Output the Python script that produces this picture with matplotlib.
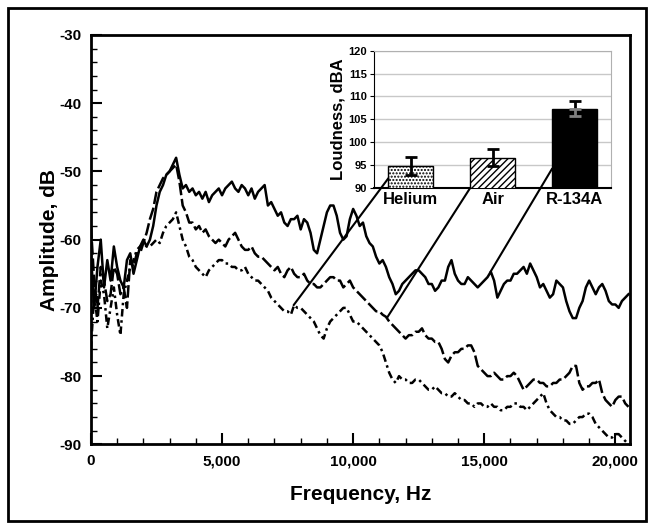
import numpy as np
import matplotlib
matplotlib.use("Agg")
import matplotlib.pyplot as plt
from matplotlib.patches import ConnectionPatch, Rectangle

plt.rcParams['font.family'] = ['Liberation Sans', 'DejaVu Sans']
plt.rcParams['font.weight'] = 'bold'
plt.rcParams['hatch.linewidth'] = 1.0
plt.rcParams['axes.unicode_minus'] = False

# spectra sampled every 125 Hz, 0 .. 20,500 Hz (one row = 1 kHz)
freq = np.arange(0, 20501, 125)

r134a_db = [-62, -70, -64, -60, -67, -63, -66, -61,
            -64, -66, -67, -63, -62, -65, -63, -61,
            -60, -61, -60, -58, -55, -53, -52, -50.5,
            -50, -49, -48, -50.5, -52.5, -52, -53, -52.5,
            -53.5, -53, -54, -53, -54.5, -53.5, -53, -52.5,
            -53.5, -52.5, -52, -51.5, -52.5, -53, -52, -52.5,
            -53.5, -52.5, -54, -53, -52.5, -52, -55, -54.5,
            -55.5, -56.5, -56, -57.5, -58, -57, -57, -56.5,
            -58.5, -57, -57.5, -59, -61.5, -62, -60, -58,
            -56, -55, -55, -56.5, -59, -60, -59.5, -57,
            -55.5, -56.5, -58, -57.5, -59.5, -60.5, -61, -62.5,
            -63.5, -63, -64, -65.5, -66.5, -68, -67.5, -66.5,
            -66, -65.5, -65, -64.5, -64.5, -65, -65.5, -66.5,
            -66.5, -67.5, -67, -66, -66, -64, -63, -65,
            -66, -66.5, -66.5, -65.5, -66, -66.5, -67, -66.5,
            -66, -65.5, -64.7, -66, -68.5, -67.5, -66.5, -66,
            -66, -65, -65, -64.5, -64, -65, -63.5, -64.5,
            -65.5, -67, -66.5, -67.5, -68.5, -68, -66, -66.5,
            -67, -69, -70.5, -71.5, -71.5, -70, -69, -67,
            -66, -67, -68, -67, -66.5, -67.5, -69, -69.5,
            -69.5, -70, -69, -68.5, -68]

air_db = [-58, -66, -70, -64, -66, -69, -68, -64,
          -65, -68, -67, -70, -63, -64, -62, -62,
          -60.5, -59, -57, -55.5, -53, -52, -51, -50.5,
          -50, -49.5, -49, -51.5, -55, -56, -57.5, -57.5,
          -58.5, -58, -59, -58.5, -59.5, -60, -60.5, -60,
          -60.5, -61, -60, -59.5, -59, -60, -61, -61.5,
          -61.5, -61, -62, -62.5, -62.5, -63, -63.5, -64,
          -64.5, -64, -65, -65.5, -64.5, -64, -65, -65.5,
          -65.5, -65, -66, -66.5, -66.5, -67, -67, -66.5,
          -66, -65.5, -65.5, -66, -66, -67, -66.5, -66,
          -67, -67.5, -68, -68.5, -69, -69.5, -70, -70.5,
          -70.5, -71, -71.3, -72, -72.5, -73, -73.5, -74,
          -74.5, -74, -74, -73.5, -73.5, -73, -74, -74.5,
          -74.5, -75, -75, -76, -77.5, -78, -77, -76.5,
          -76.5, -76, -76, -75.5, -75.5, -76.5, -78.5, -79,
          -79.5, -80, -80, -79.5, -80, -80.5, -80.5, -80,
          -80, -79.5, -80, -81, -82, -81.5, -81, -80.5,
          -80.5, -81, -81, -81.5, -81.5, -81, -81, -80.5,
          -80.5, -80, -79.5, -78.5, -78.5, -81, -82, -81.5,
          -81.5, -81, -81, -80.5, -82.5, -83.5, -84, -84.5,
          -83.5, -83, -83, -84, -84.5]

helium_db = [-76, -68, -72, -66, -68, -73, -70, -67,
             -71, -74, -68, -66, -64, -63, -61.5, -61,
             -60.5, -61, -61, -60.5, -60, -60.5, -59, -58,
             -57.5, -57, -56, -58, -60, -61, -62.5, -63,
             -64, -64.5, -65, -65.5, -64.5, -64, -63.5, -63,
             -63, -63.5, -63.5, -64, -64, -64.5, -64.5, -64,
             -65, -65.5, -66, -66, -66.5, -67, -67.5, -68.5,
             -69, -69.5, -70, -70.5, -70.5, -71, -69.6, -70,
             -70, -70.5, -71, -71.5, -72, -73, -74, -74.5,
             -73, -72, -71.5, -71, -70.5, -70, -70, -71,
             -72, -72, -72.5, -73, -73.5, -74, -74.5, -75,
             -75.5, -76.5, -78, -79.5, -80.5, -81, -80, -80.5,
             -80.5, -81, -81, -80.5, -80.5, -81, -81.5, -82,
             -82, -81.5, -82, -82.5, -82.5, -83, -83, -82.5,
             -83, -83.5, -83.5, -84, -84, -84.5, -84, -84,
             -84.5, -84.5, -84, -84.5, -84.5, -85, -85, -84.5,
             -84.5, -84, -84, -84.5, -84.5, -85, -84.5, -84,
             -83.5, -83, -82.5, -84, -85, -85.5, -86, -86,
             -86.5, -86.5, -87, -87, -86.5, -86, -86, -85.5,
             -85.5, -86, -87, -87.5, -88, -88.5, -89, -89,
             -88.5, -88.5, -89, -89.5, -90]

# inset bar chart
gases = ['Helium', 'Air', 'R-134A']
loudness = [94.8, 96.6, 107.3]
loud_err = [2.0, 1.9, 1.6]

fig = plt.figure(figsize=(6.54, 5.29), dpi=100)
fig.patches.append(Rectangle((0.012, 0.015), 0.976, 0.970, transform=fig.transFigure,
                             fill=False, edgecolor='black', linewidth=2))

ax = fig.add_axes([0.139, 0.160, 0.824, 0.774])
ax.plot(freq, r134a_db, color='black', lw=1.8, linestyle='-')
ax.plot(freq, air_db, color='black', lw=1.8, linestyle=(0, (5, 1.5)))
ax.plot(freq, helium_db, color='black', lw=1.8, linestyle=(0, (3, 1.5, 1, 1.5)))

ax.set_xlim(0, 20550)
ax.set_ylim(-90, -30)
ax.set_xticks([0, 5000, 10000, 15000, 20000])
ax.set_xticklabels(['0', '5,000', '10,000', '15,000', '20,000'])
ax.set_xticks(np.arange(0, 20001, 1000), minor=True)
ax.set_yticks(np.arange(-90, -29, 10))
ax.set_yticks(np.arange(-90, -29, 2), minor=True)
ax.tick_params(which='major', direction='in', length=8, width=1.5, labelsize=11, pad=7)
ax.tick_params(which='minor', direction='in', length=4, width=1)
for s in ax.spines.values():
    s.set_linewidth(2)
ax.set_xlabel('Frequency, Hz', fontsize=15, fontweight='bold', labelpad=12)
ax.set_ylabel('Amplitude, dB', fontsize=15, fontweight='bold', labelpad=0)

ins = fig.add_axes([0.572, 0.645, 0.363, 0.259])
x = np.arange(len(gases))
bars = ins.bar(x, loudness, width=0.55, color=['white', 'white', 'black'],
               edgecolor='black', linewidth=1, zorder=3)
bars[0].set_hatch('.....')
bars[1].set_hatch('/////')
ins.errorbar(x, loudness, yerr=loud_err, fmt='none', ecolor='black', elinewidth=2,
             capsize=4, capthick=2, zorder=4)
ins.errorbar([x[2]], [loudness[2]], yerr=[[loud_err[2]], [0]], fmt='none', ecolor='gray',
             elinewidth=2, capsize=4, capthick=2, zorder=5)
ins.set_xlim(-0.45, 2.45)
ins.set_ylim(90, 120)
ins.set_yticks(np.arange(90, 121, 5))
ins.yaxis.grid(True, color='#c8c8c8', linewidth=1)
ins.set_axisbelow(True)
ins.set_xticks(x)
ins.set_xticklabels(gases, fontsize=12, fontweight='bold')
ins.tick_params(axis='x', length=0, pad=3)
ins.tick_params(axis='y', direction='out', length=3, labelsize=8, pad=2)
ins.spines['left'].set_color('black')
ins.spines['bottom'].set_color('black')
ins.spines['bottom'].set_linewidth(1.5)
ins.spines['top'].set_color('#b0b0b0')
ins.spines['right'].set_color('#b0b0b0')
ins.set_ylabel('Loudness, dBA', fontsize=12, fontweight='bold', labelpad=2)

# leader lines from each bar to its spectrum
bar_anchor = [(-0.275, 92.1), (0.725, 90.0), (1.725, 94.2)]
curve_anchor = [(7730, -69.6), (11300, -71.4), (15240, -64.7)]
for a, b in zip(bar_anchor, curve_anchor):
    con = ConnectionPatch(xyA=a, coordsA=ins.transData, xyB=b, coordsB=ax.transData,
                          color='black', linewidth=1.5)
    fig.add_artist(con)

fig.savefig('out.png', dpi=100)
